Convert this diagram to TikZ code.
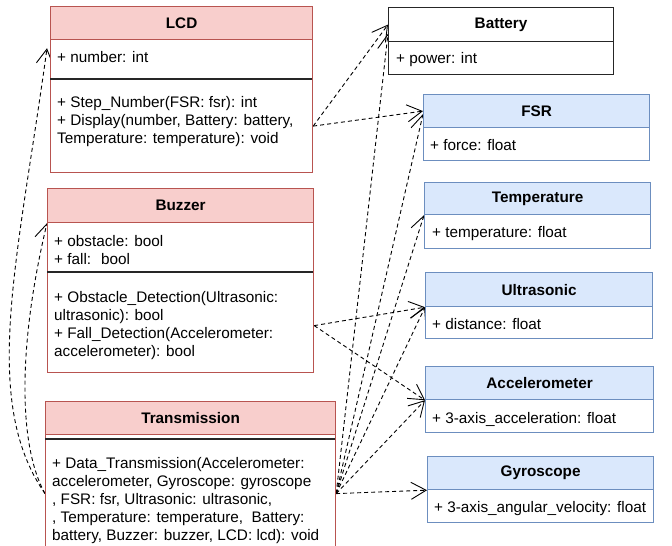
\documentclass[tikz,border=0pt]{standalone}
\usepackage{fontspec}
\setmainfont{Liberation Sans}
\usetikzlibrary{arrows.meta}
\pgfdeclarelayer{edgelayer}
\pgfdeclarelayer{nodelayer}
\pgfsetlayers{edgelayer,nodelayer,main}
\definecolor{redfill}{HTML}{F8CECC}
\definecolor{redline}{HTML}{B85450}
\definecolor{bluefill}{HTML}{DAE8FC}
\definecolor{blueline}{HTML}{6C8EBF}
\newcommand{\umlsize}{\fontsize{15.3}{17.9}\selectfont}
\tikzset{font=\umlsize}
\tikzstyle{box}=[line width=1.2pt,anchor=north west,inner sep=0pt]
\tikzstyle{redhead}=[box,draw=redline,fill=redfill,font=\umlsize\bfseries]
\tikzstyle{redbody}=[box,draw=redline,fill=white]
\tikzstyle{bluehead}=[box,draw=blueline,fill=bluefill,font=\umlsize\bfseries]
\tikzstyle{bluebody}=[box,draw=blueline,fill=white]
\tikzstyle{plainhead}=[box,draw=black!85,fill=white,font=\umlsize\bfseries]
\tikzstyle{plainbody}=[box,draw=black!85,fill=white]
\tikzstyle{txt}=[anchor=north west,inner sep=0pt,align=left]
\tikzstyle{sep}=[line width=1.1pt,draw=black!85]
\tikzstyle{dep}=[dash pattern=on 4pt off 3pt,line width=0.9pt,-{Straight Barb[length=15pt,width=17pt]}]

\begin{document}
\begin{tikzpicture}[x=1pt,y=-1pt]
	\useasboundingbox (0,0) rectangle (672,546);
	\begin{pgfonlayer}{nodelayer}
		% LCD
		\node [style=redbody,minimum width=262pt,minimum height=133pt] (lcdbody) at (50,39) {};
		\node [style=redhead,minimum width=262pt,minimum height=33pt] (lcd) at (50,6) {LCD};
		\draw [style=sep] (50,79) -- (312,79);
		\node [style=txt] (lcdattr) at (57,50) {\strut+ number: int};
		\node [style=txt] (lcdops) at (57,95) {\strut+ Step\_Number(FSR: fsr): int\\+ Display(number, Battery: battery,\\Temperature: temperature): void};
		% Buzzer
		\node [style=redbody,minimum width=266pt,minimum height=150pt] (buzbody) at (47,222) {};
		\node [style=redhead,minimum width=266pt,minimum height=34pt] (buz) at (47,188) {Buzzer};
		\draw [style=sep] (47,272) -- (313,272);
		\node [style=txt] (buzattr) at (54,234) {\strut+ obstacle: bool\\+ fall:~ bool};
		\node [style=txt] (buzops) at (54,289.7) {\strut+ Obstacle\_Detection(Ultrasonic:\\ultrasonic): bool\\+ Fall\_Detection(Accelerometer:\\accelerometer): bool};
		% Transmission
		\node [style=redbody,minimum width=290pt,minimum height=118pt] (trbody) at (45,434) {};
		\node [style=redhead,minimum width=290pt,minimum height=33pt] (tr) at (45,401) {Transmission};
		\draw [style=sep] (45,439) -- (335,439);
		\node [style=txt] (trops) at (52,456) {\strut+ Data\_Transmission(Accelerometer:\\accelerometer, Gyroscope: gyroscope\\, FSR: fsr, Ultrasonic: ultrasonic,\\, Temperature: temperature,\ \ Battery:\\battery, Buzzer: buzzer, LCD: lcd): void};
		% Battery
		\node [style=plainbody,minimum width=225pt,minimum height=33pt] (batbody) at (388,41) {};
		\node [style=plainhead,minimum width=225pt,minimum height=34pt] (bat) at (388,7) {Battery};
		\node [style=txt] (batattr) at (396,51) {\strut+ power: int};
		% FSR
		\node [style=bluebody,minimum width=226pt,minimum height=33pt] (fsrbody) at (423,127) {};
		\node [style=bluehead,minimum width=226pt,minimum height=33pt] (fsr) at (423,94) {FSR};
		\node [style=txt] (fsrattr) at (430,138) {\strut+ force: float};
		% Temperature
		\node [style=bluebody,minimum width=226pt,minimum height=34pt] (tempbody) at (424,214) {};
		\node [style=bluehead,minimum width=226pt,minimum height=32pt] (temp) at (424,182) {Temperature};
		\node [style=txt] (tempattr) at (432,224.7) {\strut+ temperature: float};
		% Ultrasonic
		\node [style=bluebody,minimum width=227pt,minimum height=32pt] (ultbody) at (425,306) {};
		\node [style=bluehead,minimum width=227pt,minimum height=34pt] (ult) at (425,272) {Ultrasonic};
		\node [style=txt] (ultattr) at (432,316.3) {\strut+ distance: float};
		% Accelerometer
		\node [style=bluebody,minimum width=228pt,minimum height=33pt] (accbody) at (425,399) {};
		\node [style=bluehead,minimum width=228pt,minimum height=33pt] (acc) at (425,366) {Accelerometer};
		\node [style=txt] (accattr) at (432,410.3) {\strut+ 3-axis\_acceleration: float};
		% Gyroscope
		\node [style=bluebody,minimum width=226pt,minimum height=33pt] (gyrobody) at (427,489) {};
		\node [style=bluehead,minimum width=226pt,minimum height=33pt] (gyro) at (427,456) {Gyroscope};
		\node [style=txt] (gyroattr) at (434,499.7) {\strut+ 3-axis\_angular\_velocity: float};
	\end{pgfonlayer}
	\begin{pgfonlayer}{edgelayer}
		\draw [style=dep] ([yshift=-20pt]lcdbody.east) -- (bat.west);
		\draw [style=dep] ([yshift=-20pt]lcdbody.east) -- (fsr.west);
		\draw [style=dep] ([yshift=-28pt]buzbody.east) -- (ult.south west);
		\draw [style=dep] ([yshift=-28pt]buzbody.east) -- (acc.south west);
		\draw [style=dep] (trbody.east) -- ([yshift=-9pt]bat.west);
		\draw [style=dep] (trbody.east) -- ([yshift=-3pt]fsr.west);
		\draw [style=dep] (trbody.east) -- (temp.south west);
		\draw [style=dep] (trbody.east) -- (ult.south west);
		\draw [style=dep] (trbody.east) -- (acc.south west);
		\draw [style=dep] (trbody.east) -- (gyro.south west);
		\draw [style=dep] (trbody.west) .. controls (-20,400) and (18,260) .. ([xshift=-3pt,yshift=-8pt]lcd.south west);
		\draw [style=dep] (trbody.west) .. controls (18,445) and (18,345) .. (buz.south west);
	\end{pgfonlayer}
\end{tikzpicture}
\end{document}
